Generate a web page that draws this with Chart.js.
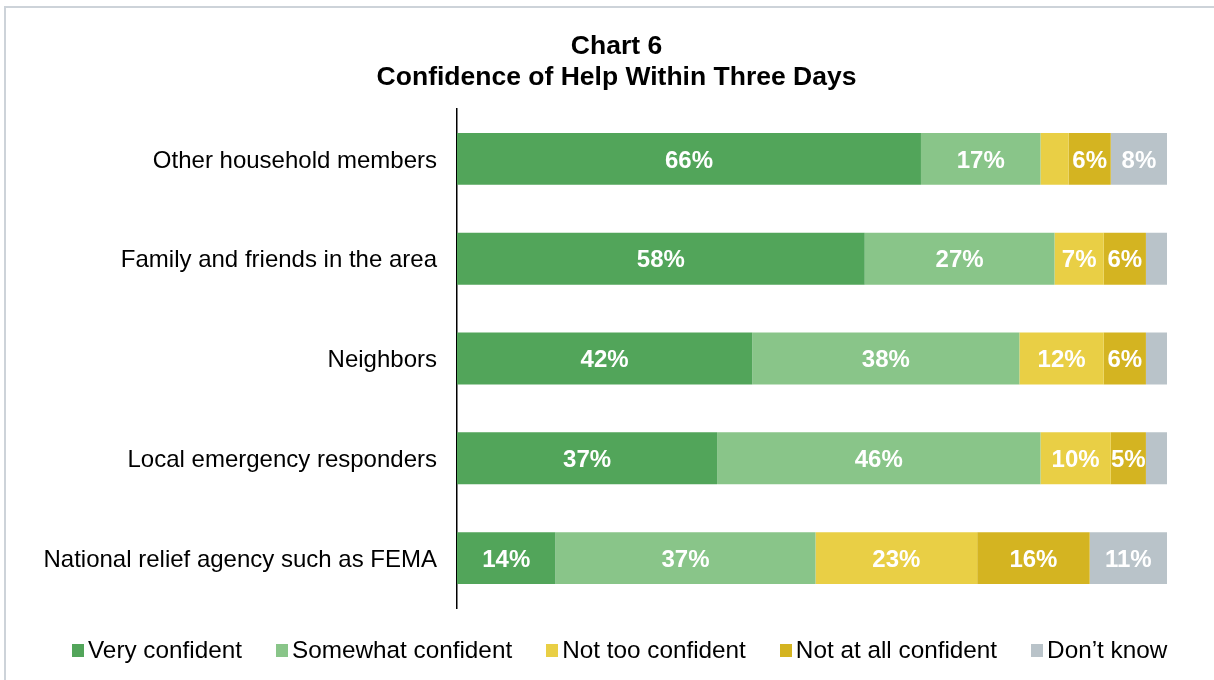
<!DOCTYPE html>
<html>
<head>
<meta charset="utf-8">
<script src="https://cdn.jsdelivr.net/npm/chart.js@4/dist/chart.umd.min.js"></script>
<style>
  html, body { margin: 0; padding: 0; background: #fff; overflow: hidden; }
  #wrap { position: relative; width: 1214px; height: 680px; }
  #frame { position: absolute; left: 4px; top: 6px; width: 1240px; height: 700px;
           border: 2px solid #cdd3d9; box-sizing: border-box; }
  canvas { position: absolute; left: 0; top: 0; }
  #legend { position: absolute; left: 72px; top: 636px; height: 28px; display: flex;
            align-items: center; font-family: "Liberation Sans", Arial, sans-serif;
            font-size: 24.3px; color: #000; white-space: nowrap; }
  #legend .item { display: flex; align-items: center; margin-right: 34px; }
  #legend .box { width: 12px; height: 13px; margin-right: 4px; }
</style>
</head>
<body>
<div id="wrap">
  <div id="frame"></div>
  <canvas id="chart" width="1214" height="680"></canvas>
  <div id="legend"></div>
</div>
<script>
// Survey rows and shares (percent of respondents)
const categories = [
  'Other household members',
  'Family and friends in the area',
  'Neighbors',
  'Local emergency responders',
  'National relief agency such as FEMA'
];
const seriesNames = ['Very confident', 'Somewhat confident', 'Not too confident', 'Not at all confident', 'Don\u2019t know'];
const veryConfident     = [66, 58, 42, 37, 14];
const somewhatConfident = [17, 27, 38, 46, 37];
const notTooConfident   = [4, 7, 12, 10, 23];
const notAtAllConfident = [6, 6, 6, 5, 16];
const dontKnow          = [8, 3, 3, 3, 11];
const titleLines = ['Chart 6', 'Confidence of Help Within Three Days'];

const seriesColors = ['#52a55a', '#89c589', '#e9cf45', '#d4b421', '#b9c3c9'];
const FONT = '"Liberation Sans", Arial, sans-serif';
const MIN_LABELED = 5;   // segments narrower than this carry no value label

const seriesValues = [veryConfident, somewhatConfident, notTooConfident, notAtAllConfident, dontKnow];

// White percentage labels centred in each stacked segment
const segmentLabels = {
  id: 'segmentLabels',
  afterDatasetsDraw(chart) {
    const ctx = chart.ctx;
    ctx.save();
    ctx.fillStyle = '#ffffff';
    ctx.font = 'bold 24px ' + FONT;
    ctx.textAlign = 'center';
    ctx.textBaseline = 'middle';
    chart.data.datasets.forEach((ds, di) => {
      const meta = chart.getDatasetMeta(di);
      meta.data.forEach((bar, i) => {
        const v = ds.data[i];
        if (v < MIN_LABELED) return;
        const p = bar.getProps(['x', 'y', 'base'], true);
        ctx.fillText(v + '%', (p.x + p.base) / 2, p.y + 2);
      });
    });
    ctx.restore();
  }
};

const chart = new Chart(document.getElementById('chart'), {
  type: 'bar',
  data: {
    labels: categories,
    datasets: seriesValues.map((vals, i) => ({
      label: seriesNames[i],
      data: vals,
      backgroundColor: seriesColors[i],
      borderWidth: 0,
      barPercentage: 0.52,
      categoryPercentage: 1
    }))
  },
  options: {
    indexAxis: 'y',
    responsive: false,
    animation: false,
    layout: { padding: { left: 19, right: 0, top: 0, bottom: 72 } },
    plugins: {
      legend: { display: false },
      tooltip: { enabled: false },
      title: {
        display: true,
        text: titleLines,
        color: '#000',
        font: { family: FONT, size: 26.5, weight: 'bold', lineHeight: 1.17 },
        padding: { top: 31, bottom: 16 }
      }
    },
    scales: {
      x: {
        stacked: true,
        display: false,
        min: 0,
        max: 101
      },
      y: {
        stacked: true,
        grid: { display: false, drawTicks: false },
        border: { display: true, color: '#000', width: 1.5 },
        ticks: {
          color: '#000',
          padding: 20,
          labelOffset: 2,
          font: { family: FONT, size: 24 }
        },
        afterFit(scale) { scale.width = 438; }
      },
      // empty right-hand margin axis
      yRight: {
        type: 'category',
        position: 'right',
        grid: { display: false, drawTicks: false },
        border: { display: false },
        ticks: { display: false },
        afterFit(scale) { scale.width = 47; }
      }
    }
  },
  plugins: [segmentLabels]
});

// Legend row under the chart
const legendEl = document.getElementById('legend');
chart.data.datasets.forEach(ds => {
  const item = document.createElement('div');
  item.className = 'item';
  const box = document.createElement('span');
  box.className = 'box';
  box.style.background = ds.backgroundColor;
  const txt = document.createElement('span');
  txt.textContent = ds.label;
  item.appendChild(box);
  item.appendChild(txt);
  legendEl.appendChild(item);
});
</script>
</body>
</html>
